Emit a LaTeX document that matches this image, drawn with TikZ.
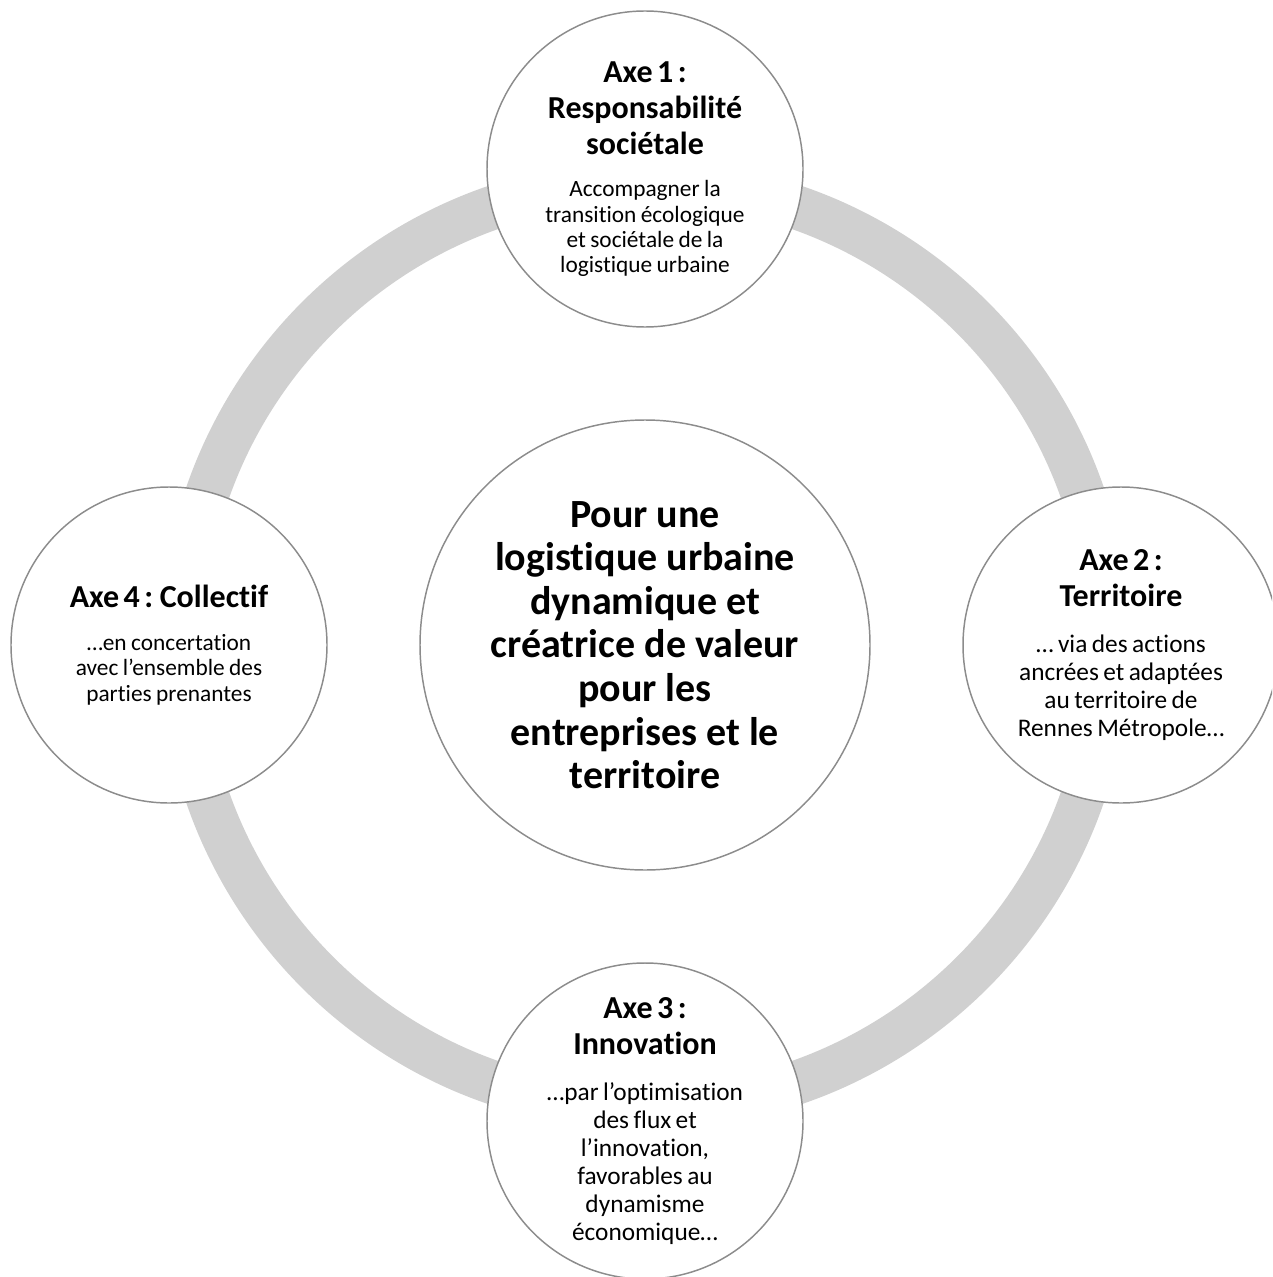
\documentclass[tikz,border=0pt]{standalone}
\usepackage{fontspec}
\setmainfont{Carlito}[Ligatures=NoCommon]
\usepackage{tikz}
\definecolor{ringgray}{HTML}{D0D0D0}
\definecolor{edgegray}{HTML}{8C8C8C}
\newcommand{\AXT}{\fontsize{24}{27}\selectfont\bfseries}
\newcommand{\AXS}{\fontsize{17.5}{19}\selectfont\mdseries}
\newcommand{\AXL}{\fontsize{19}{21}\selectfont\mdseries}
\tikzset{
    RG/.style ={draw=ringgray, line width=33pt},
    CC1/.style ={circle, minimum size=237pt, draw=edgegray, line width=1.1pt, fill=white, inner sep=0pt},
    CC2/.style ={circle, minimum size=337.5pt, draw=edgegray, line width=1.1pt, fill=white, inner sep=0pt},
    TX/.style ={align=center, text width=220pt, inner sep=0pt},
    TC/.style ={align=center, font=\fontsize{30}{32.7}\selectfont\bfseries, inner sep=0pt}}

\begin{document}
\begin{tikzpicture}[x=0.75pt, y=-0.75pt]
        \useasboundingbox (0,0) rectangle (1272,1277);
        \clip (0,0) rectangle (1272,1277);
        \coordinate (O) at (645,645);
        \draw[RG] (O) circle (347.25pt);
        % the four axes
        \node[CC1] (A1) at (645,169) {};
        \node[CC1] (A2) at (1121,645) {};
        \node[CC1] (A3) at (645,1121) {};
        \node[CC1] (A4) at (169,645) {};
        \node[CC2] (C) at (O) {};
        \node[TX] (T1) at (A1) {\AXT Axe 1 :\\Responsabilité\\sociétale\par\vspace{13pt}
            \AXS Accompagner la\\transition écologique\\et sociétale de la\\logistique urbaine\par};
        \node[TX] (T2) at (A2) {\AXT Axe 2 :\\Territoire\par\vspace{13pt}
            \AXL … via des actions\\ancrées et adaptées\\au territoire de\\Rennes Métropole…\par};
        \node[TX] (T3) at (A3) {\AXT Axe 3 :\\Innovation\par\vspace{13pt}
            \AXL …par l’optimisation\\des flux et\\l’innovation,\\favorables au\\dynamisme\\économique…\par};
        \node[TX] (T4) at (A4) {\AXT Axe 4 : Collectif\par\vspace{13pt}
            \AXS …en concertation\\avec l’ensemble des\\parties prenantes\par};
        \node[TC] (TC0) at (C) {Pour une\\logistique urbaine\\dynamique et\\créatrice de valeur\\pour les\\entreprises et le\\territoire};
    \end{tikzpicture}
\end{document}
